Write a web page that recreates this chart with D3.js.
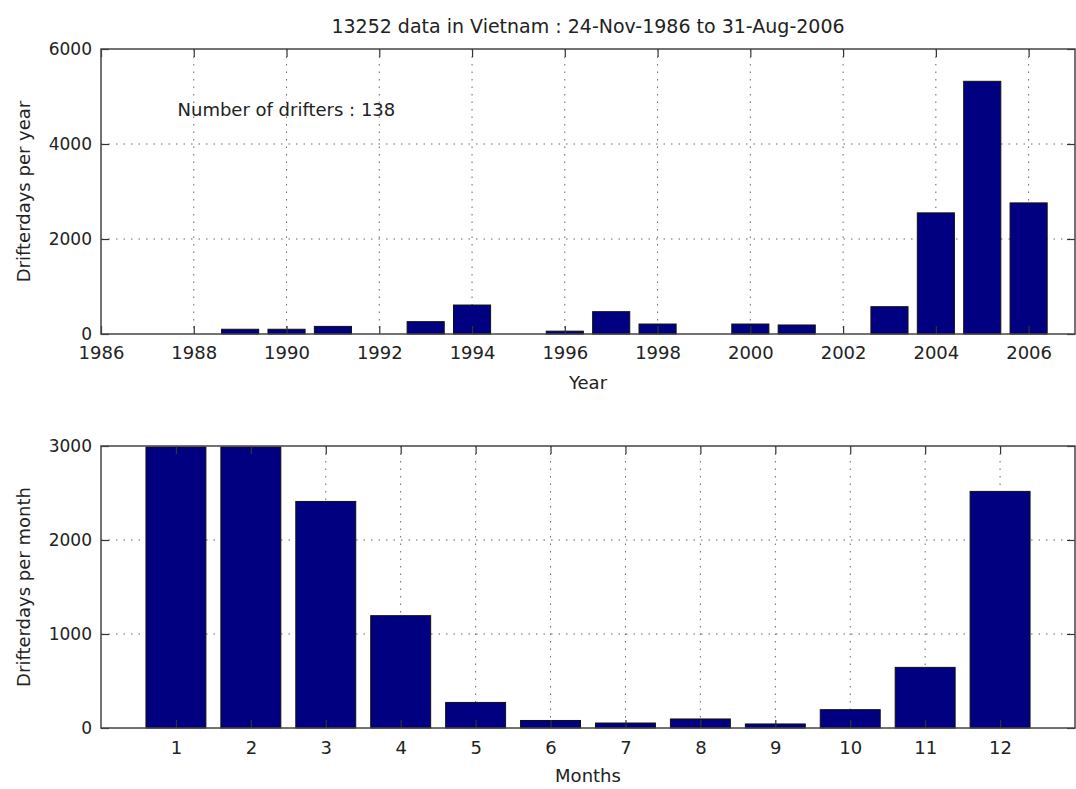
<!DOCTYPE html>
<html>
<head>
<meta charset="utf-8">
<script src="https://cdn.jsdelivr.net/npm/d3@7"></script>
<style>
  body { margin: 0; background: #fff; }
  text { font-family: "DejaVu Sans", sans-serif; fill: #222; }
</style>
</head>
<body>
<div id="chart"></div>
<script>
// yearly drifterdays
const years = [1989, 1990, 1991, 1993, 1994, 1996, 1997, 1998, 2000, 2001, 2003, 2004, 2005, 2006];
const perYear = [100, 100, 160, 260, 610, 60, 470, 210, 210, 190, 575, 2550, 5320, 2760];
const yearTicks = d3.range(1986, 2007, 2);
const yearValueTicks = [0, 2000, 4000, 6000];

// monthly drifterdays
const months = [1, 2, 3, 4, 5, 6, 7, 8, 9, 10, 11, 12];
const perMonth = [2990, 2990, 2410, 1195, 272, 80, 53, 96, 43, 195, 645, 2517];
const monthValueTicks = [0, 1000, 2000, 3000];

const titleText = "13252 data in Vietnam : 24-Nov-1986 to 31-Aug-2006";
const driftersText = "Number of drifters : 138";

const W = 1076, H = 789;
const svg = d3.select("#chart").append("svg")
    .attr("width", W).attr("height", H);

const left = 101, right = 1075;

function drawPanel(opt) {
    const x = d3.scaleLinear().domain(opt.xDomain).range([left, right]);
    const y = d3.scaleLinear().domain(opt.yDomain).range([opt.bottom, opt.top]);
    const g = svg.append("g");

    // dotted grid (behind the bars)
    g.selectAll(".vgrid").data(opt.xTicks.filter(t => x(t) > left + 1 && x(t) < right - 1))
      .enter().append("line")
        .attr("x1", d => x(d)).attr("x2", d => x(d))
        .attr("y1", opt.top).attr("y2", opt.bottom)
        .attr("stroke", "#666").attr("stroke-width", 1)
        .attr("stroke-dasharray", "1.5,6");
    g.selectAll(".hgrid").data(opt.yTicks.filter(t => y(t) < opt.bottom - 1 && y(t) > opt.top + 1))
      .enter().append("line")
        .attr("x1", left).attr("x2", right)
        .attr("y1", d => y(d)).attr("y2", d => y(d))
        .attr("stroke", "#666").attr("stroke-width", 1)
        .attr("stroke-dasharray", "1.5,6");

    // bars
    const bw = x(opt.xDomain[0] + 0.8) - x(opt.xDomain[0]);
    g.selectAll(".bar").data(opt.cats.map((c, i) => ({c: c, v: opt.vals[i]})))
      .enter().append("rect")
        .attr("x", d => x(d.c) - bw / 2)
        .attr("y", d => y(d.v))
        .attr("width", bw)
        .attr("height", d => y(0) - y(d.v))
        .attr("fill", "#000080")
        .attr("stroke", "#111").attr("stroke-width", 1);

    // axes, ticks pointing inside
    const xb = g.append("g").attr("transform", `translate(0,${opt.bottom})`)
        .call(d3.axisBottom(x).tickValues(opt.xTicks).tickSize(-8).tickPadding(opt.xPad).tickFormat(d3.format("d")));
    const xt = g.append("g").attr("transform", `translate(0,${opt.top})`)
        .call(d3.axisTop(x).tickValues(opt.xTicks).tickSize(-8).tickFormat(""));
    const yl = g.append("g").attr("transform", `translate(${left},0)`)
        .call(d3.axisLeft(y).tickValues(opt.yTicks).tickSize(-8).tickPadding(9).tickFormat(d3.format("d")));
    const yr = g.append("g").attr("transform", `translate(${right},0)`)
        .call(d3.axisRight(y).tickValues(opt.yTicks).tickSize(-8).tickFormat(""));

    [xb, xt, yl, yr].forEach(a => {
        a.select(".domain").remove();
        a.selectAll(".tick line").attr("stroke", "#333").attr("stroke-width", 1.2);
        a.selectAll("text").style("font-size", "18px").attr("fill", "#222")
          .style("font-family", "DejaVu Sans, sans-serif");
    });
    // value labels slightly smaller so the "0" clears the first year label
    yl.selectAll("text").style("font-size", "17px").attr("dy", "0.3em");

    // box
    g.append("rect")
        .attr("x", left).attr("y", opt.top)
        .attr("width", right - left).attr("height", opt.bottom - opt.top)
        .attr("fill", "none").attr("stroke", "#444").attr("stroke-width", 1.5);

    // labels
    g.append("text")
        .attr("x", (left + right) / 2).attr("y", opt.xLabelY)
        .attr("text-anchor", "middle").style("font-size", "18px")
        .text(opt.xLabel);
    g.append("text")
        .attr("transform", `translate(30,${(opt.top + opt.bottom) / 2}) rotate(-90)`)
        .attr("text-anchor", "middle").style("font-size", "18px")
        .text(opt.yLabel);

    return {x: x, y: y, g: g};
}

const yearPanel = drawPanel({
    xDomain: [1986, 2007], yDomain: [0, 6000],
    top: 49, bottom: 334,
    cats: years, vals: perYear,
    xTicks: yearTicks, yTicks: yearValueTicks,
    xPad: 12, xLabel: "Year", xLabelY: 389,
    yLabel: "Drifterdays per year"
});

const monthPanel = drawPanel({
    xDomain: [0, 13], yDomain: [0, 3000],
    top: 446, bottom: 728,
    cats: months, vals: perMonth,
    xTicks: months, yTicks: monthValueTicks,
    xPad: 13, xLabel: "Months", xLabelY: 782,
    yLabel: "Drifterdays per month"
});

// annotation in the year panel
yearPanel.g.append("text")
    .attr("x", yearPanel.x(1987.65)).attr("y", yearPanel.y(4700))
    .attr("dominant-baseline", "middle")
    .style("font-size", "18px")
    .text(driftersText);

// title
svg.append("text")
    .attr("x", (left + right) / 2).attr("y", 33)
    .attr("text-anchor", "middle")
    .style("font-size", "19px")
    .text(titleText);
</script>
</body>
</html>
